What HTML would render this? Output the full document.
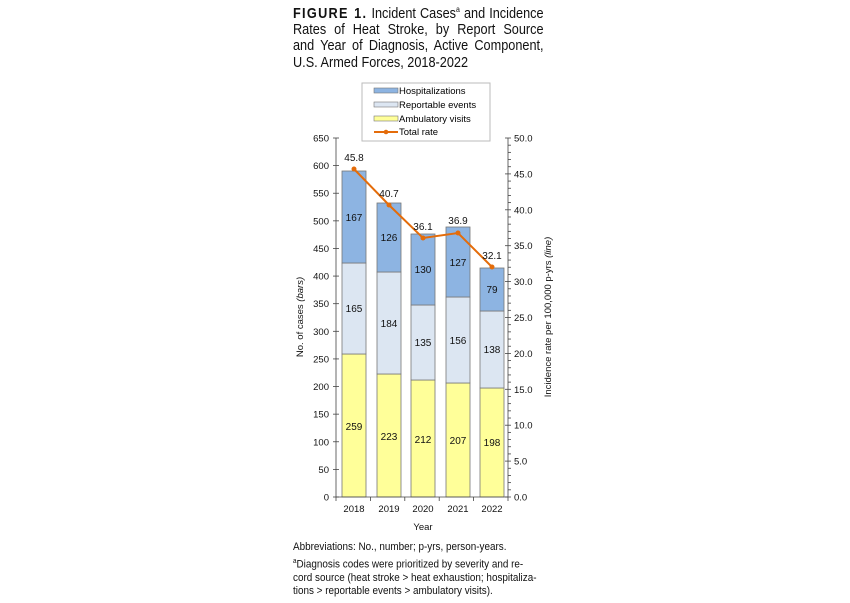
<!DOCTYPE html>
<html><head><meta charset="utf-8"><style>
body{margin:0;background:#fff;width:850px;height:603px;overflow:hidden;font-family:"Liberation Sans",Arial,sans-serif;}
.t{position:absolute;left:293px;top:2px;width:288px;font-size:14.6px;line-height:16.3px;color:#111;transform:scaleX(0.87);transform-origin:0 0;}
.t div{text-align:justify;text-align-last:justify;white-space:nowrap;}
.t div.l{text-align-last:left;}
.f{position:absolute;left:293px;top:541px;font-size:11px;line-height:13.5px;color:#111;transform:scaleX(0.9);transform-origin:0 0;white-space:nowrap;}
</style></head><body>
<div class="t">
<div><b style="letter-spacing:1.5px">FIGURE 1.</b> Incident Cases<sup style="font-size:8px">a</sup> and Incidence</div>
<div>Rates of Heat Stroke, by Report Source</div>
<div>and Year of Diagnosis, Active Component,</div>
<div class="l">U.S. Armed Forces, 2018-2022</div>
</div>
<svg width="850" height="603" style="position:absolute;left:0;top:0" font-family="Liberation Sans, Arial, sans-serif">
<rect x="362" y="83" width="128" height="58" fill="#fff" stroke="#bbb"/>
<rect x="374" y="88" width="24" height="5" fill="#8DB4E2" stroke="#777" stroke-width="0.6"/>
<text x="399" y="94" font-size="9.5">Hospitalizations</text>
<rect x="374" y="102" width="24" height="5" fill="#DCE6F2" stroke="#777" stroke-width="0.6"/>
<text x="399" y="108" font-size="9.5">Reportable events</text>
<rect x="374" y="116" width="24" height="5" fill="#FFFF99" stroke="#777" stroke-width="0.6"/>
<text x="399" y="122" font-size="9.5">Ambulatory visits</text>
<line x1="374" y1="132" x2="398" y2="132" stroke="#E46C0A" stroke-width="2"/>
<circle cx="386" cy="132" r="2.3" fill="#E46C0A"/>
<text x="399" y="135" font-size="9.5">Total rate</text>
<g stroke="#777" stroke-width="0.8">
<rect x="342" y="354" width="24" height="143" fill="#FFFF99"/>
<rect x="342" y="263" width="24" height="91" fill="#DCE6F2"/>
<rect x="342" y="171" width="24" height="92" fill="#8DB4E2"/>
<rect x="377" y="374" width="24" height="123" fill="#FFFF99"/>
<rect x="377" y="272" width="24" height="102" fill="#DCE6F2"/>
<rect x="377" y="203" width="24" height="69" fill="#8DB4E2"/>
<rect x="411" y="380" width="24" height="117" fill="#FFFF99"/>
<rect x="411" y="305" width="24" height="75" fill="#DCE6F2"/>
<rect x="411" y="234" width="24" height="71" fill="#8DB4E2"/>
<rect x="446" y="383" width="24" height="114" fill="#FFFF99"/>
<rect x="446" y="297" width="24" height="86" fill="#DCE6F2"/>
<rect x="446" y="227" width="24" height="70" fill="#8DB4E2"/>
<rect x="480" y="388" width="24" height="109" fill="#FFFF99"/>
<rect x="480" y="311" width="24" height="77" fill="#DCE6F2"/>
<rect x="480" y="268" width="24" height="43" fill="#8DB4E2"/>
</g>
<g font-size="10" text-anchor="middle" fill="#111">
<text x="354" y="430">259</text><text x="354" y="312">165</text><text x="354" y="221">167</text>
<text x="389" y="440">223</text><text x="389" y="327">184</text><text x="389" y="241">126</text>
<text x="423" y="443">212</text><text x="423" y="346">135</text><text x="423" y="273">130</text>
<text x="458" y="444">207</text><text x="458" y="344">156</text><text x="458" y="266">127</text>
<text x="492" y="446">198</text><text x="492" y="353">138</text><text x="492" y="293">79</text>
</g>
<polyline points="354,169 389,205 423,238 458,233 492,267" fill="none" stroke="#E46C0A" stroke-width="2"/>
<g fill="#E46C0A"><circle cx="354" cy="169" r="2.5"/><circle cx="389" cy="205" r="2.5"/><circle cx="423" cy="238" r="2.5"/><circle cx="458" cy="233" r="2.5"/><circle cx="492" cy="267" r="2.5"/></g>
<g font-size="10" text-anchor="middle" fill="#111">
<text x="354" y="161">45.8</text><text x="389" y="197">40.7</text><text x="423" y="230">36.1</text><text x="458" y="224">36.9</text><text x="492" y="259">32.1</text>
</g>
<g stroke="#444" stroke-width="0.8">
<line x1="336" y1="138" x2="336" y2="497"/><line x1="336" y1="497" x2="508" y2="497"/><line x1="508" y1="138" x2="508" y2="497"/>
</g>
<g id="lt" font-size="9.5" text-anchor="end" fill="#111"></g>
<g id="rt" font-size="9.5" fill="#111"></g>
<g font-size="9.5" text-anchor="middle" fill="#111">
<text x="354" y="512">2018</text><text x="389" y="512">2019</text><text x="423" y="512">2020</text><text x="458" y="512">2021</text><text x="492" y="512">2022</text>
<text x="423" y="530">Year</text>
<text transform="translate(303,317) rotate(-90)">No. of cases <tspan font-style="italic">(bars)</tspan></text>
<text transform="translate(551,317) rotate(-90)">Incidence rate per 100,000 p-yrs <tspan font-style="italic">(line)</tspan></text>
</g>
<g id="tk" stroke="#444" stroke-width="0.8"></g>
</svg>
<div class="f">Abbreviations: No., number; p-yrs, person-years.<br><sup style="font-size:7px">a</sup>Diagnosis codes were prioritized by severity and re-<br>cord source (heat stroke &gt; heat exhaustion; hospitaliza-<br>tions &gt; reportable events &gt; ambulatory visits).</div>
<script>
var ns="http://www.w3.org/2000/svg",lt=document.getElementById("lt"),rt=document.getElementById("rt"),tk=document.getElementById("tk");
function el(p,n,a,t){var e=document.createElementNS(ns,n);for(var k in a)e.setAttribute(k,a[k]);if(t)e.textContent=t;p.appendChild(e);}
for(var v=0;v<=650;v+=50){var y=497-v*359/650;el(lt,"text",{x:329,y:y+3.5},""+v);el(tk,"line",{x1:333,x2:339,y1:y,y2:y});}
for(var i=0;i<=50;i++){var y=497-i*359/50;if(i%5==0){el(rt,"text",{x:514,y:y+3.5},(i).toFixed(1));el(tk,"line",{x1:505,x2:511,y1:y,y2:y});}else el(tk,"line",{x1:508,x2:511,y1:y,y2:y});}
for(var b=0;b<6;b++){var x=336+b*34.4;el(tk,"line",{x1:x,x2:x,y1:497,y2:501});}
</script>
</body></html>
